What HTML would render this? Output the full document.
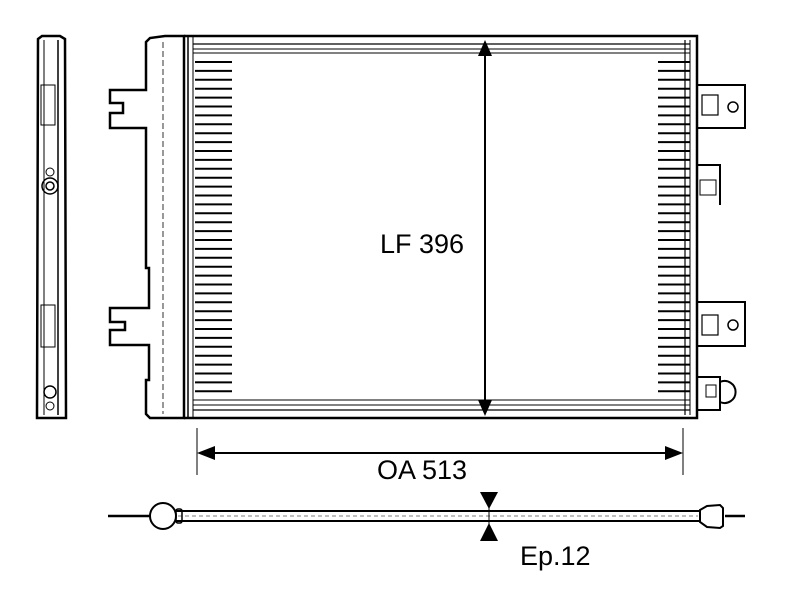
<!DOCTYPE html>
<html><head><meta charset="utf-8"><style>html,body{margin:0;padding:0;background:#fff}svg{display:block}</style></head>
<body>
<svg id="s" width="793" height="600" viewBox="0 0 793 600" xmlns="http://www.w3.org/2000/svg" font-family="Liberation Sans, sans-serif">
<g fill="none" stroke="#000" stroke-width="2">
<!-- side view -->
<path d="M38 39 L42 36 L60 36 L65 39 L66 418 L37 418 Z" stroke-width="2.5"/>
<line x1="44" y1="40" x2="44" y2="415" stroke-width="1"/>
<line x1="58" y1="40" x2="58" y2="415" stroke-width="1.5"/>
<rect x="41" y="85" width="14" height="40" stroke-width="1"/>
<rect x="41" y="305" width="14" height="42" stroke-width="1"/>
<circle cx="50" cy="186" r="8" stroke-width="1.5"/><circle cx="50" cy="186" r="4" stroke-width="1.5"/>
<circle cx="50" cy="172" r="4" stroke-width="1"/>
<circle cx="50" cy="392" r="6" stroke-width="1.5"/><circle cx="50" cy="406" r="4" stroke-width="1"/>
<!-- left tank -->
<path d="M146 42 L150 38 L165 36 L184 36 L184 418 L150 418 L146 414 L146 380 L149 380 L149 345 L110 345 L110 330 L125 330 L125 322 L110 322 L110 308 L149 308 L149 268 L146 268 L146 128 L110 128 L110 113 L123 113 L123 103 L110 103 L110 90 L146 90 Z" stroke-width="2.5"/>
<line x1="163" y1="42" x2="163" y2="414" stroke-width="0.8" stroke-dasharray="6 3"/>
<line x1="188" y1="36" x2="188" y2="418" stroke-width="1.5"/>
<line x1="193" y1="36" x2="193" y2="418" stroke-width="1"/>
<!-- core outer -->
<path d="M184 36 L697 36 L697 418 L184 418" stroke-width="2.5"/>
<line x1="193" y1="44" x2="690" y2="44" stroke-width="1.2"/>
<line x1="193" y1="49" x2="690" y2="49" stroke-width="1"/>
<line x1="193" y1="53" x2="690" y2="53" stroke-width="1"/>
<line x1="193" y1="400" x2="690" y2="400" stroke-width="1"/>
<line x1="193" y1="405" x2="690" y2="405" stroke-width="1"/>
<line x1="193" y1="410" x2="690" y2="410" stroke-width="1.2"/>
<line x1="685" y1="40" x2="685" y2="415" stroke-width="1.2"/>
<line x1="690" y1="40" x2="690" y2="415" stroke-width="1"/>
<g id="fins" stroke-width="2"></g>
<!-- right brackets -->
<path d="M697 85 L745 85 L745 128 L697 128" stroke-width="2"/>
<rect x="702" y="95" width="16" height="20" stroke-width="1.2"/><circle cx="733" cy="107" r="5" stroke-width="1.5"/>
<path d="M697 165 L720 165 L720 205" stroke-width="2"/>
<rect x="700" y="180" width="16" height="15" stroke-width="1"/>
<path d="M697 302 L745 302 L745 346 L697 346" stroke-width="2"/>
<rect x="702" y="315" width="16" height="20" stroke-width="1.2"/><circle cx="733" cy="325" r="5" stroke-width="1.5"/>
<path d="M697 377 L720 377 L720 410 L697 410" stroke-width="2"/>
<path d="M720 382 A11 11 0 1 1 720 402" stroke-width="2"/>
<rect x="706" y="385" width="10" height="12" stroke-width="1"/>
<!-- LF dimension -->
<line x1="485" y1="50" x2="485" y2="405" stroke-width="2"/>
<!-- OA dimension -->
<line x1="197" y1="428" x2="197" y2="475" stroke-width="1"/>
<line x1="683" y1="428" x2="683" y2="475" stroke-width="1"/>
<line x1="210" y1="453" x2="670" y2="453" stroke-width="2"/>
<!-- bottom view -->
<line x1="108" y1="516" x2="150" y2="516" stroke-width="2.5"/>
<line x1="725" y1="516" x2="745" y2="516" stroke-width="2.5"/>
<line x1="175" y1="511" x2="700" y2="511" stroke-width="2"/>
<line x1="175" y1="521" x2="700" y2="521" stroke-width="2"/>
<line x1="178" y1="516" x2="698" y2="516" stroke-width="0.6" stroke-dasharray="4 3"/>
<circle cx="163" cy="516" r="13" stroke-width="2"/>
<rect x="176" y="509" width="6" height="14" rx="2" stroke-width="1.5"/>
<path d="M700 510 L707 506 L720 505 L723 508 L723 526 L720 528 L707 527 L700 522 Z" stroke-width="2"/>
<line x1="489" y1="508" x2="489" y2="524" stroke-width="1"/>
</g>
<g fill="#000">
<polygon points="485,40 478,56 492,56"/>
<polygon points="485,416 478,400 492,400"/>
<polygon points="197,453 215,446 215,460"/>
<polygon points="683,453 665,446 665,460"/>
<polygon points="480,492 498,492 489,509"/>
<polygon points="480,541 498,541 489,523"/>
</g>
<rect x="378" y="226" width="94" height="32" fill="#fff"/>
<text x="380" y="253" font-size="27">LF 396</text>
<text x="377" y="479" font-size="27">OA 513</text>
<text x="520" y="565" font-size="27">Ep.12</text>
</svg>
<script>
var g=document.getElementById('fins'),ns='http://www.w3.org/2000/svg';
for(var y=62;y<=392;y+=8.9){
 [[195,232],[658,690]].forEach(function(r){var l=document.createElementNS(ns,'line');
 l.setAttribute('x1',r[0]);l.setAttribute('x2',r[1]);l.setAttribute('y1',y.toFixed(1));l.setAttribute('y2',y.toFixed(1));g.appendChild(l);});
}
</script>
</body></html>
